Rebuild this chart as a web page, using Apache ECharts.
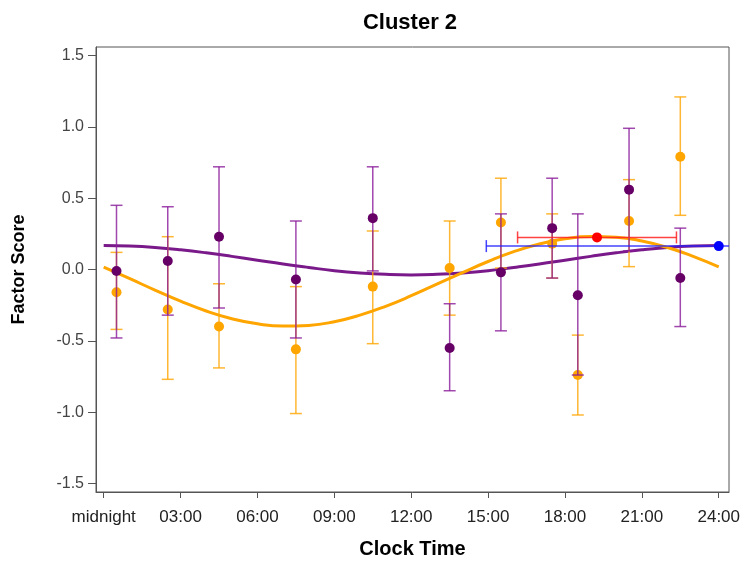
<!DOCTYPE html>
<html>
<head>
<meta charset="utf-8">
<script src="https://cdn.jsdelivr.net/npm/echarts@6/dist/echarts.min.js"></script>
<style>
    html, body { margin: 0; padding: 0; background: #fff; }
    #chart { width: 741px; height: 562px; }
</style>
</head>
<body>
<div id="chart"></div>
<script>
// observed group means with error bars (hour of day)
const hours = [0.5, 2.5, 4.5, 7.5, 10.5, 13.5, 15.5, 17.5, 18.5, 20.5, 22.5];
const purpleMean = [-0.01, 0.06, 0.23, -0.07, 0.36, -0.55, -0.02, 0.29, -0.18, 0.56, -0.06];
const purpleLow = [-0.48, -0.32, -0.27, -0.48, -0.01, -0.85, -0.43, -0.06, -0.74, 0.13, -0.40];
const purpleHigh = [0.45, 0.44, 0.72, 0.34, 0.72, -0.24, 0.39, 0.64, 0.39, 0.99, 0.29];
const orangeMean = [-0.16, -0.28, -0.40, -0.56, -0.12, 0.01, 0.33, 0.18, -0.74, 0.34, 0.79];
const orangeLow = [-0.42, -0.77, -0.69, -1.01, -0.52, -0.32, 0.01, -0.06, -1.02, 0.02, 0.38];
const orangeHigh = [0.12, 0.23, -0.10, -0.12, 0.27, 0.34, 0.64, 0.39, -0.46, 0.63, 1.21];

// fitted curves
const curveHours = [0, 1, 2, 3, 4, 5, 6, 7, 8, 9, 10, 11, 12, 13, 14, 15, 16, 17, 18, 19, 20, 21, 22, 23, 24];
const purpleCurve = [0.168, 0.164, 0.154, 0.138, 0.117, 0.092, 0.065, 0.038, 0.014, -0.008, -0.024, -0.034, -0.038,
    -0.034, -0.024, -0.008, 0.014, 0.038, 0.065, 0.092, 0.117, 0.138, 0.154, 0.164, 0.168];
const orangeCurve = [0.017, -0.063, -0.144, -0.222, -0.291, -0.345, -0.381, -0.397, -0.392, -0.366, -0.320, -0.258, -0.184,
    -0.103, -0.022, 0.056, 0.125, 0.179, 0.215, 0.231, 0.226, 0.200, 0.154, 0.092, 0.018];

// acrophase points with horizontal intervals: [hour, value, low, high]
const redPeak = [19.25, 0.225, 16.15, 22.35];
const bluePeak = [24.0, 0.164, 14.93, 33.07];

const xTicks = [0, 3, 6, 9, 12, 15, 18, 21, 24];
const yTicks = [-1.5, -1.0, -0.5, 0.0, 0.5, 1.0, 1.5];

const labelFont = "'Liberation Sans Narrow', 'Liberation Sans', Arial, sans-serif";
const boldFont = "'Liberation Sans', Arial, sans-serif";

function vBar(color) {
    return function (params, api) {
        let x = api.value(0);
        let lo = api.coord([x, api.value(1)]);
        let hi = api.coord([x, api.value(2)]);
        let w = 6;
        let style = { stroke: color, lineWidth: 1.5, opacity: 0.8 };
        return {
            type: 'group',
            children: [
                { type: 'line', shape: { x1: lo[0], y1: lo[1], x2: hi[0], y2: hi[1] }, style: style },
                { type: 'line', shape: { x1: lo[0] - w, y1: lo[1], x2: lo[0] + w, y2: lo[1] }, style: style },
                { type: 'line', shape: { x1: hi[0] - w, y1: hi[1], x2: hi[0] + w, y2: hi[1] }, style: style }
            ]
        };
    };
}

function hBar(color) {
    return function (params, api) {
        let y = api.value(1);
        let lo = api.coord([api.value(2), y]);
        let hi = api.coord([api.value(3), y]);
        let h = 6;
        let style = { stroke: color, lineWidth: 1.5, opacity: 0.85 };
        return {
            type: 'group',
            children: [
                { type: 'line', shape: { x1: lo[0], y1: lo[1], x2: hi[0], y2: hi[1] }, style: style },
                { type: 'line', shape: { x1: lo[0], y1: lo[1] - h, x2: lo[0], y2: lo[1] + h }, style: style },
                { type: 'line', shape: { x1: hi[0], y1: hi[1] - h, x2: hi[0], y2: hi[1] + h }, style: style }
            ]
        };
    };
}

let chart = echarts.init(document.getElementById('chart'));

let option = {
    animation: false,
    backgroundColor: '#fff',
    title: {
        text: 'Cluster 2',
        left: 405,
        top: 7,
        textAlign: 'center',
        textStyle: { fontFamily: boldFont, fontSize: 22, fontWeight: 'bold', color: '#000' }
    },
    grid: {
        left: 96, right: 12, top: 47, bottom: 70,
        containLabel: false,
        outerBoundsMode: 'none',
        show: true, borderColor: '#555', borderWidth: 1
    },
    xAxis: {
        type: 'value',
        min: -0.3,
        max: 24.4,
        name: 'Clock Time',
        nameLocation: 'middle',
        nameGap: 47,
        nameTextStyle: { fontFamily: boldFont, fontSize: 20, fontWeight: 'bold', color: '#000' },
        axisLine: { show: true, onZero: false, lineStyle: { color: '#555' } },
        axisTick: { show: true, length: 6, customValues: xTicks, lineStyle: { color: '#555' } },
        axisLabel: {
            customValues: xTicks,
            margin: 17,
            fontFamily: labelFont,
            fontSize: 17,
            color: '#222',
            formatter: v => v === 0 ? 'midnight' : String(v).padStart(2, '0') + ':00'
        },
        splitLine: { show: false }
    },
    yAxis: {
        type: 'value',
        min: -1.56,
        max: 1.56,
        name: 'Factor Score',
        nameLocation: 'middle',
        nameGap: 68,
        nameTextStyle: { fontFamily: boldFont, fontSize: 18, fontWeight: 'bold', color: '#000' },
        axisLine: { show: true, onZero: false, lineStyle: { color: '#555' } },
        axisTick: { show: true, length: 8, customValues: yTicks, lineStyle: { color: '#555' } },
        axisLabel: {
            customValues: yTicks,
            margin: 12,
            fontFamily: labelFont,
            fontSize: 16,
            color: '#444',
            formatter: v => v.toFixed(1)
        },
        splitLine: { show: false }
    },
    series: [
        {
            type: 'line',
            data: curveHours.map((h, i) => [h, purpleCurve[i]]),
            smooth: true,
            showSymbol: false,
            lineStyle: { color: '#7a1a8a', width: 3 },
            z: 2
        },
        {
            type: 'line',
            data: curveHours.map((h, i) => [h, orangeCurve[i]]),
            smooth: true,
            showSymbol: false,
            lineStyle: { color: '#ffa500', width: 3 },
            z: 2
        },
        {
            type: 'custom',
            renderItem: vBar('#ffa500'),
            data: hours.map((h, i) => [h, orangeLow[i], orangeHigh[i]]),
            encode: { x: 0, y: [1, 2] },
            z: 3
        },
        {
            type: 'scatter',
            data: hours.map((h, i) => [h, orangeMean[i]]),
            symbolSize: 10,
            itemStyle: { color: '#ffa500', opacity: 1 },
            z: 4
        },
        {
            type: 'custom',
            renderItem: vBar('#8a1a9a'),
            data: hours.map((h, i) => [h, purpleLow[i], purpleHigh[i]]),
            encode: { x: 0, y: [1, 2] },
            z: 5
        },
        {
            type: 'scatter',
            data: hours.map((h, i) => [h, purpleMean[i]]),
            symbolSize: 10,
            itemStyle: { color: '#660066', opacity: 1 },
            z: 6
        },
        {
            type: 'custom',
            renderItem: hBar('#2222ff'),
            data: [bluePeak],
            encode: { x: [0, 2, 3], y: 1 },
            clip: true,
            z: 7
        },
        {
            type: 'custom',
            renderItem: hBar('#ff2222'),
            data: [redPeak],
            encode: { x: [0, 2, 3], y: 1 },
            clip: true,
            z: 7
        },
        {
            type: 'scatter',
            data: [[bluePeak[0], bluePeak[1]]],
            symbolSize: 10,
            itemStyle: { color: '#0000ff', opacity: 1 },
            z: 8
        },
        {
            type: 'scatter',
            data: [[redPeak[0], redPeak[1]]],
            symbolSize: 10,
            itemStyle: { color: '#ff0000', opacity: 1 },
            z: 8
        }
    ]
};

chart.setOption(option);
</script>
</body>
</html>
